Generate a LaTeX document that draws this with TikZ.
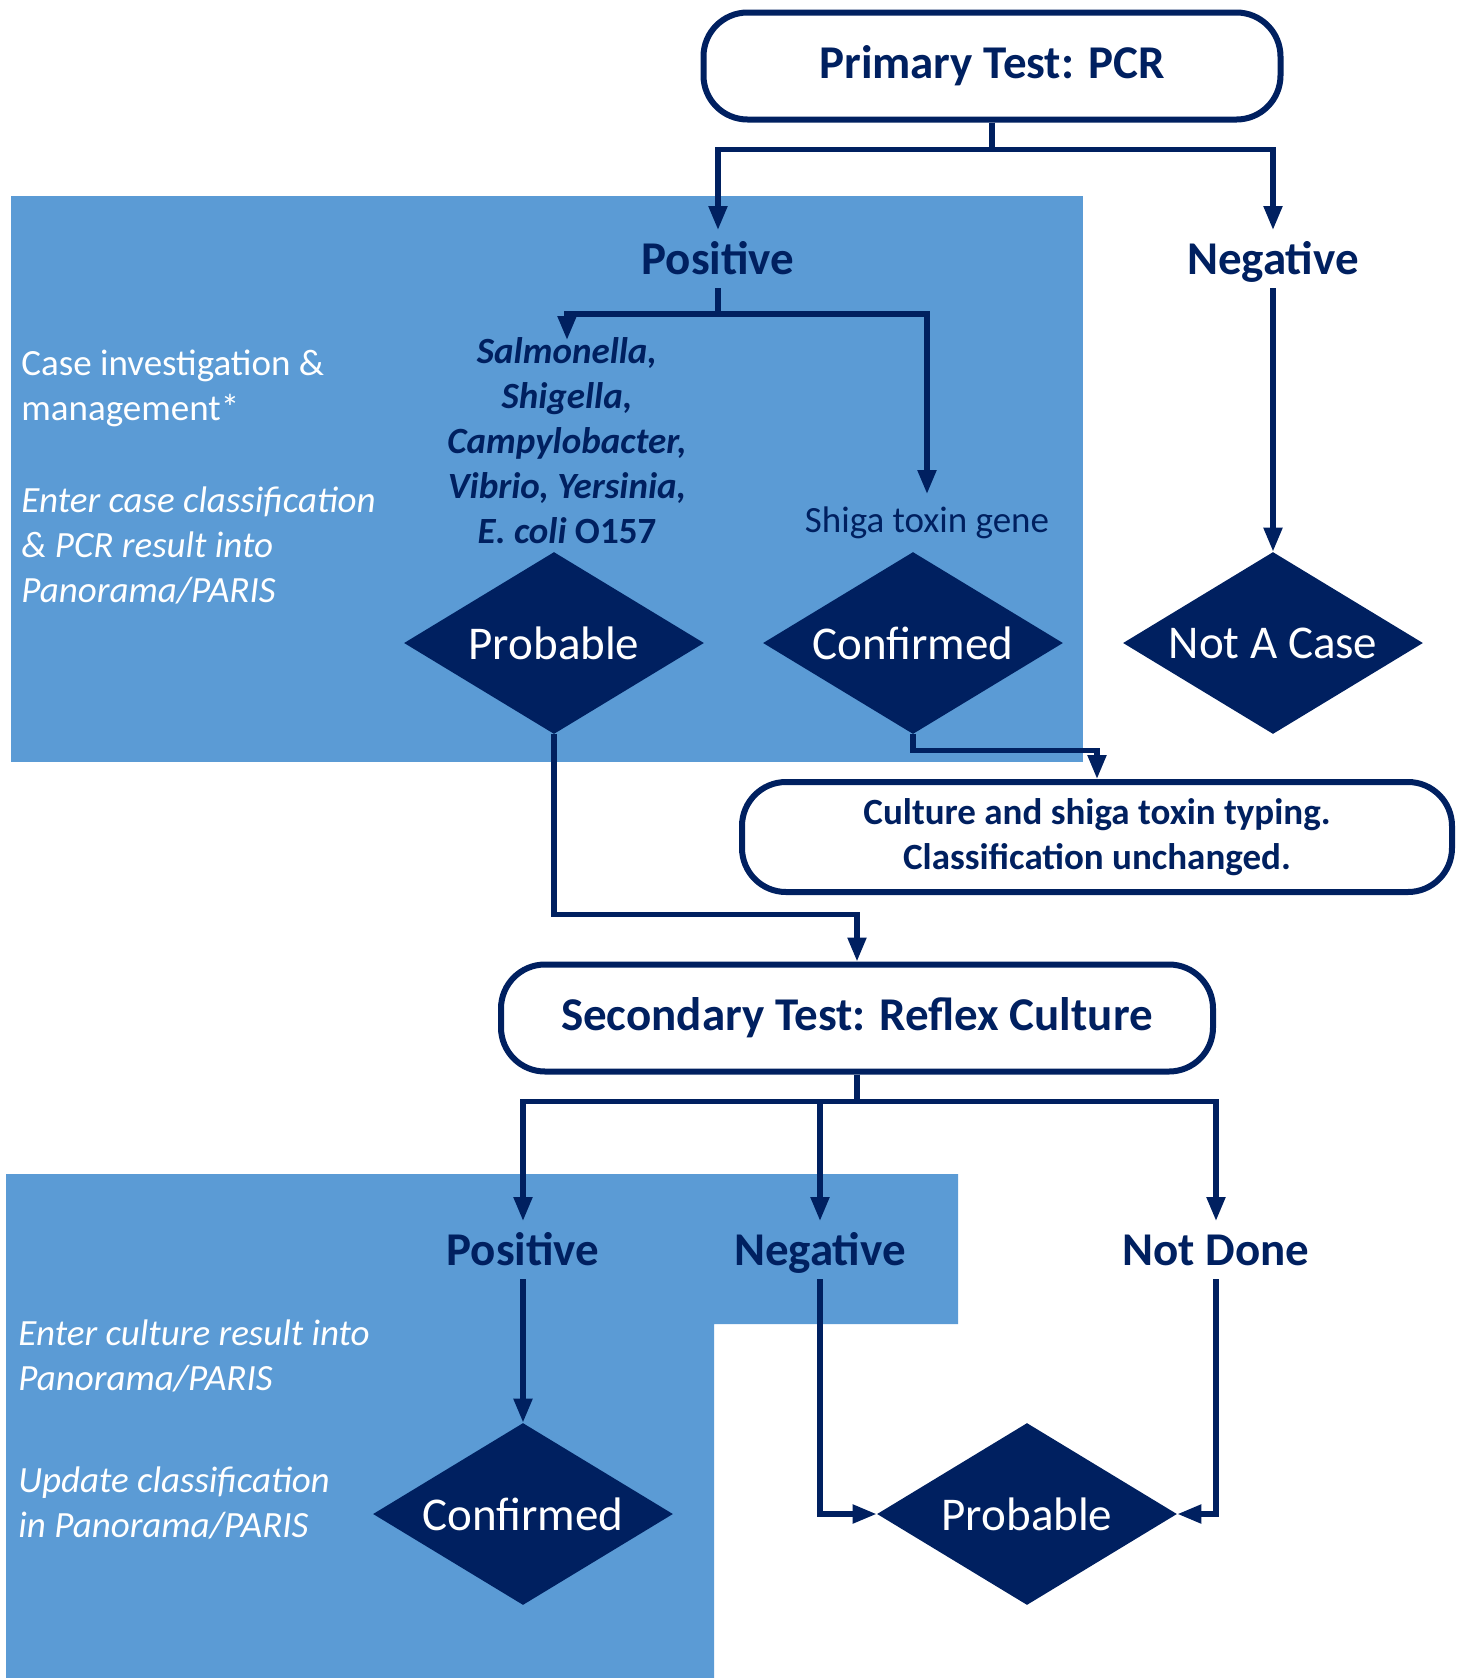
\documentclass[tikz,border=0pt]{standalone}
\usepackage{fontspec}
\setmainfont{Carlito}
\usepackage{tikz}
\usetikzlibrary{shapes, arrows.meta, calc, positioning}
\definecolor{navyc}{HTML}{002060}
\definecolor{panelc}{HTML}{5B9BD5}
\newcommand{\linecolor}{navyc}
\newcommand{\bigfont}{\fontsize{23.5}{28}\selectfont}
\newcommand{\smallfont}{\fontsize{18.5}{22.5}\selectfont}

\begin{document}
\begin{tikzpicture}[x=0.5pt, y=-0.5pt]
	\tikzstyle{testbox}=[draw=\linecolor, line width=3pt, fill=white, rounded corners=22pt, minimum height=53.5pt, font=\bigfont\bfseries, text=\linecolor]
	\tikzstyle{decision}=[diamond, fill=\linecolor, text=white, font=\bigfont, inner sep=0pt, aspect=1.65, minimum width=150pt, minimum height=91pt]
	\tikzstyle{result}=[font=\bigfont\bfseries, text=\linecolor, inner sep=0pt, text height=20pt, text depth=5pt, outer sep=2pt]
	\tikzstyle{note}=[font=\smallfont, text=white, align=left, anchor=west, inner sep=0pt]
	\tikzstyle{link}=[draw=\linecolor, line width=2.6pt, -{Triangle[length=12pt,width=9pt]}]
	\useasboundingbox (0,0) rectangle (1462,1678);
	
	% shaded panels
	\fill[panelc] (11,196) rectangle (1083,762);
	\fill[panelc] (6,1174) -- (958,1174) -- (958,1324) -- (714,1324) -- (714,1678) -- (6,1678) -- cycle;
	
	\node (primary) at (992,66) [testbox, minimum width=288.5pt]{Primary Test: PCR};
	\node (pos1) at (718,259) [result]{Positive};
	\node (neg1) at (1273,259) [result]{Negative};
	\node (bugs) at (567,441) [font=\smallfont\bfseries, text=\linecolor, align=center, inner sep=0pt]{\itshape Salmonella,\\\itshape Shigella,\\\itshape Campylobacter,\\\itshape Vibrio, Yersinia,\\{\itshape E. coli} O157};
	\node (shiga) at (927,523) [font=\smallfont, text=\linecolor, inner sep=0pt, text height=13pt, text depth=4pt, outer sep=6pt]{Shiga toxin gene};
	\node (prob1) at (554,643) [decision]{Probable};
	\node (conf1) at (913,643) [decision]{Confirmed};
	\node (nac) at (1273,643) [decision]{Not A Case};
	\node (culture) at (1097,837) [testbox, minimum width=355pt, minimum height=55pt, font=\smallfont\bfseries, align=center]{Culture and shiga toxin typing.\\Classification unchanged.};
	\node (secondary) at (857,1018) [testbox, minimum width=356pt]{Secondary Test: Reflex Culture};
	\node (pos2) at (523,1250) [result]{Positive};
	\node (neg2) at (820,1250) [result]{Negative};
	\node (nd) at (1216,1250) [result]{Not Done};
	\node (conf2) at (523,1514) [decision]{Confirmed};
	\node (prob2) at (1027,1514) [decision]{Probable};
	
	\node (note1) at (21,388) [note]{Case investigation \&\\management*};
	\node (note2) at (21,545) [note, font=\smallfont\itshape]{Enter case classification\\\& PCR result into\\Panorama/PARIS};
	\node (note3) at (18,1356) [note, font=\smallfont\itshape]{Enter culture result into\\Panorama/PARIS};
	\node (note4) at (18,1503) [note, font=\smallfont\itshape]{Update classification\\in Panorama/PARIS};
	
	\coordinate (bugtip) at (567,340);
	
	\draw[link] (primary.south) -- ++(0,27) -| (pos1.north);
	\draw[link] (primary.south) -- ++(0,27) -| (neg1.north);
	\draw[link] (pos1.south) -- ++(0,26) -| (bugtip);
	\draw[link] (pos1.south) -- ++(0,26) -| (shiga.north);
	\draw[link] (neg1.south) -- (nac.north);
	\draw[link] (conf1.south) -- ++(0,16) -| (culture.north);
	\draw[link] (prob1.south) -- ++(0,180) -| (secondary.north);
	\draw[link] (secondary.south) -- ++(0,27) -| (pos2.north);
	\draw[link] (secondary.south) -- ++(0,27) -| (neg2.north);
	\draw[link] (secondary.south) -- ++(0,27) -| (nd.north);
	\draw[link] (pos2.south) -- (conf2.north);
	\draw[link] (neg2.south) |- (prob2.west);
	\draw[link] (nd.south) |- (prob2.east);
	
\end{tikzpicture}
\end{document}
